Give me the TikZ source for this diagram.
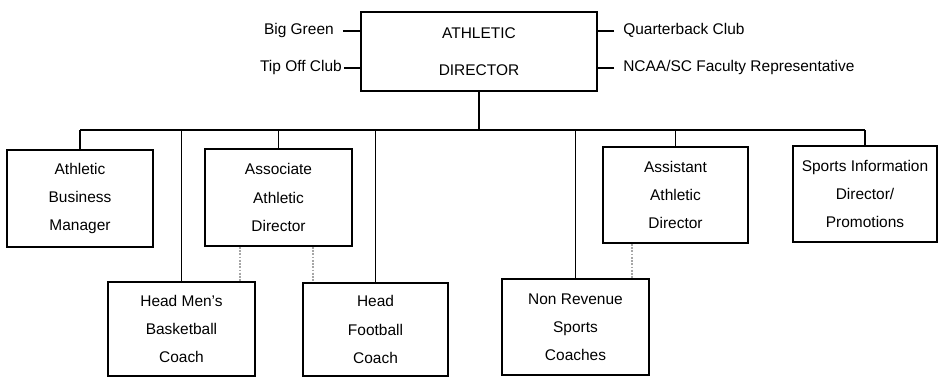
\documentclass[tikz,border=0pt]{standalone}
\usepackage{fontspec}
\setmainfont{Liberation Sans}
\usetikzlibrary{positioning, calc}

\begin{document}
\begin{tikzpicture}[x=0.025cm, y=-0.025cm,
  office/.style={draw, line width=1.2pt, align=center, inner sep=0pt,
    minimum width=3.65cm, minimum height=2.4cm, font=\fontsize{11}{20}\selectfont},
  club/.style={inner sep=0pt, font=\fontsize{11}{13}\selectfont},
  link/.style={line width=1pt},
  tie/.style={link, shorten <=0.22cm},
  liaison/.style={draw=gray!70, line width=1.3pt, densely dotted}]
  \useasboundingbox (0,0) rectangle (938,378);

  % top of the chart
  \node[office, minimum width=5.9cm, minimum height=1.975cm] (director) at (479,51.5) {ATHLETIC\\[6.2pt]DIRECTOR};

  \node[club, anchor=mid east] (biggreen) at (334,31) {Big Green};
  \node[club, anchor=mid east] (tipoff) at (342,68) {Tip Off Club};
  \node[club, anchor=mid west] (qbclub) at (623,31) {Quarterback Club};
  \node[club, anchor=mid west] (ncaa) at (623,68) {NCAA/SC Faculty Representative};

  \draw[tie] (biggreen.mid east) -- (biggreen.mid east -| director.west);
  \draw[tie, shorten <=0.05cm] (tipoff.mid east) -- (tipoff.mid east -| director.west);
  \draw[tie] (qbclub.mid west) -- (qbclub.mid west -| director.east);
  \draw[tie] (ncaa.mid west) -- (ncaa.mid west -| director.east);

  % staff offices
  \node[office, minimum height=2.425cm] (abm) at (80,198.5) {Athletic\\Business\\Manager};
  \node[office, minimum width=3.675cm, minimum height=2.425cm] (aad) at (278.5,197.5) {Associate\\Athletic\\Director};
  \node[office, minimum width=3.625cm] (asstad) at (675.5,195) {Assistant\\Athletic\\Director};
  \node[office, minimum width=3.6cm] (sid) at (865,194) {Sports Information\\Director/\\Promotions};

  % coaches
  \node[office, minimum width=3.675cm, minimum height=2.35cm] (hmbb) at (181.5,329) {Head Men's\\Basketball\\Coach};
  \node[office, minimum width=3.625cm, minimum height=2.325cm] (hfc) at (375.5,329.5) {Head\\Football\\Coach};
  \node[office, minimum width=3.675cm] (nrsc) at (575.5,327) {Non Revenue\\Sports\\Coaches};

  % reporting lines
  \coordinate (bus) at (479,130);
  \draw[link] (director.south) -- (bus);
  \draw[link] (bus -| abm.north) -- (bus -| sid.north);
  \foreach \n in {abm, aad, hmbb, hfc, nrsc, asstad, sid}
    \draw[link] (bus -| \n.north) -- (\n.north);

  % dotted liaison lines
  \coordinate (lk1) at ([xshift=-0.96cm]aad.south);
  \coordinate (lk2) at ([xshift=0.86cm]aad.south);
  \coordinate (lk3) at ([xshift=-1.09cm]asstad.south);
  \draw[liaison] (lk1) -- (lk1 |- hmbb.north);
  \draw[liaison] (lk2) -- (lk2 |- hfc.north);
  \draw[liaison] (lk3) -- (lk3 |- nrsc.north);
\end{tikzpicture}
\end{document}
